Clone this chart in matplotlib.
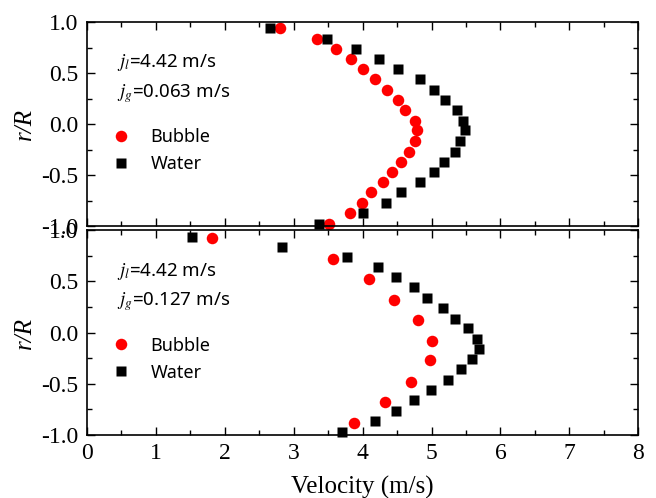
import matplotlib
matplotlib.use('Agg')
import matplotlib.pyplot as plt
from matplotlib.ticker import MultipleLocator

# r/R positions and velocities (m/s)
# top panel: jl = 4.42 m/s, jg = 0.063 m/s
r_top = [0.94, 0.83, 0.74, 0.635, 0.535, 0.44, 0.335, 0.235, 0.135, 0.03,
         -0.06, -0.17, -0.27, -0.37, -0.47, -0.57, -0.67, -0.775, -0.875, -0.975]
bubble_top = [2.80, 3.34, 3.62, 3.83, 4.01, 4.18, 4.35, 4.51, 4.61, 4.76,
              4.79, 4.76, 4.67, 4.56, 4.42, 4.29, 4.12, 3.99, 3.82, 3.51]
water_top = [2.66, 3.48, 3.90, 4.24, 4.51, 4.83, 5.04, 5.20, 5.37, 5.46,
             5.48, 5.42, 5.34, 5.18, 5.04, 4.83, 4.55, 4.34, 4.00, 3.36]

# bottom panel: jl = 4.42 m/s, jg = 0.127 m/s
r_bub_bot = [0.925, 0.72, 0.52, 0.32, 0.125, -0.08, -0.27, -0.48, -0.68, -0.88]
bubble_bot = [1.82, 3.57, 4.09, 4.45, 4.80, 5.01, 4.98, 4.70, 4.33, 3.88]
r_wat_bot = [0.93, 0.836, 0.74, 0.64, 0.54, 0.44, 0.34, 0.24, 0.137, 0.04,
             -0.06, -0.16, -0.26, -0.36, -0.465, -0.56, -0.66, -0.765, -0.866, -0.97]
water_bot = [1.53, 2.83, 3.78, 4.22, 4.49, 4.74, 4.93, 5.16, 5.34, 5.53,
             5.66, 5.69, 5.58, 5.43, 5.24, 4.99, 4.74, 4.48, 4.18, 3.70]

labels_top = [r'$j_l$=4.42 m/s', r'$j_g$=0.063 m/s']
labels_bot = [r'$j_l$=4.42 m/s', r'$j_g$=0.127 m/s']

plt.rcParams['mathtext.fontset'] = 'stix'
serif = 'Liberation Serif'
sans = 'Noto Sans'

fig = plt.figure(figsize=(6.56, 4.98), dpi=100)
ax1 = fig.add_axes([0.1326, 0.546, 0.8404, 0.4098])
ax2 = fig.add_axes([0.1326, 0.1265, 0.8404, 0.4115])


def style_axis(ax, show_xlabels):
    ax.set_xlim(0, 8)
    ax.set_ylim(-1.0, 1.0)
    ax.xaxis.set_major_locator(MultipleLocator(1))
    ax.xaxis.set_minor_locator(MultipleLocator(0.5))
    ax.yaxis.set_major_locator(MultipleLocator(0.5))
    ax.yaxis.set_minor_locator(MultipleLocator(0.25))
    ax.tick_params(which='both', direction='in', top=True, right=True, width=1.0)
    ax.tick_params(which='major', length=6)
    ax.tick_params(which='minor', length=3.5)
    ax.tick_params(labelsize=17, pad=6)
    for s in ax.spines.values():
        s.set_linewidth(1.2)
    for t in ax.get_yticklabels() + ax.get_xticklabels():
        t.set_family(serif)
    if not show_xlabels:
        ax.tick_params(labelbottom=False)
    ax.set_ylabel('r/R', family=serif, style='italic', fontsize=18, labelpad=4)


def panel(ax, r_b, v_b, r_w, v_w, texts, show_xlabels):
    ax.plot(v_b, r_b, 'o', color='#ff0000', markersize=8.3, mec='none', label='Bubble', clip_on=False)
    ax.plot(v_w, r_w, 's', color='black', markersize=7.5, mec='none', label='Water', clip_on=False)
    style_axis(ax, show_xlabels)
    ax.set_yticks([-1.0, -0.5, 0.0, 0.5, 1.0])
    ax.set_yticklabels(['-1.0', '-0.5', '0.0', '0.5', '1.0'], family=serif)
    ax.text(0.054, 0.80, texts[0], transform=ax.transAxes, fontsize=13.5,
            family=sans, va='center', ha='left')
    ax.text(0.054, 0.65, texts[1], transform=ax.transAxes, fontsize=13.5,
            family=sans, va='center', ha='left')
    ax.legend(loc='center left', bbox_to_anchor=(0.02, 0.37), frameon=False,
              prop={'family': sans, 'size': 13}, handlelength=1.2,
              handletextpad=1.0, labelspacing=0.5, borderpad=0.2)


panel(ax1, r_top, bubble_top, r_top, water_top, labels_top, False)
panel(ax2, r_bub_bot, bubble_bot, r_wat_bot, water_bot, labels_bot, True)
ax2.set_xlabel('Velocity (m/s)', family=serif, fontsize=18, labelpad=8)

fig.savefig('out.png', dpi=100)
